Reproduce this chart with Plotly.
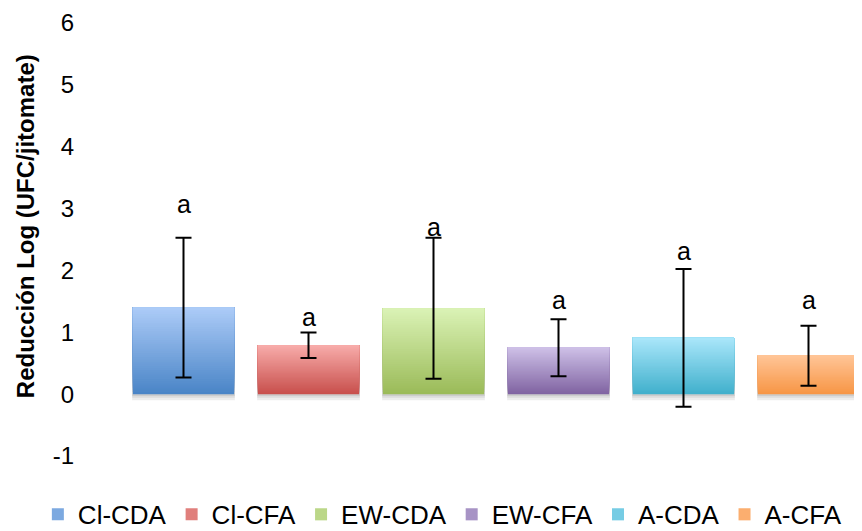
import plotly.graph_objects as go

# ---- data ----
categories = ["Cl-CDA", "Cl-CFA", "EW-CDA", "EW-CFA", "A-CDA", "A-CFA"]
means = [1.40, 0.79, 1.39, 0.75, 0.91, 0.62]
errors = [1.13, 0.205, 1.14, 0.46, 1.115, 0.485]
letters = ["a", "a", "a", "a", "a", "a"]
letter_y = [3.07, 1.24, 2.71, 1.53, 2.31, 1.53]
y_ticks = [-1, 0, 1, 2, 3, 4, 5, 6]
y_title = "Reducción Log (UFC/jitomate)"

# gradient colours (top, bottom) per series
top_colors = ["#ACCBF7", "#F7ABA9", "#DAF2B5", "#CDBFE6", "#A9E6FA", "#FFC495"]
bottom_colors = ["#4A85C7", "#C8504D", "#9BBB59", "#8064A2", "#41B0CC", "#F79646"]

FONT = "Liberation Sans, Arial, Helvetica, sans-serif"
N_SEG = 40
BAR_W = 0.81
SHADOW_DROP = [0.10, 0.06, 0.03]   # soft drop shadow layers (axis units)


def hex2rgb(h):
    h = h.lstrip("#")
    return tuple(int(h[i:i + 2], 16) for i in (0, 2, 4))


def mix(c1, c2, t):
    a, b = hex2rgb(c1), hex2rgb(c2)
    return "rgb(%d,%d,%d)" % tuple(round(a[i] + (b[i] - a[i]) * t) for i in range(3))


fig = go.Figure()

for i, cat in enumerate(categories):
    v = means[i]
    # soft shadow behind the bar
    for d in SHADOW_DROP:
        fig.add_trace(go.Bar(
            x=[cat], y=[v], base=[-d], width=BAR_W + 0.012,
            marker=dict(color="rgba(0,0,0,0.07)", line=dict(width=0)),
            showlegend=False, hoverinfo="skip", name=cat,
        ))
    # nested bars, each reaching the bar top, painted bottom colour first -> smooth gradient
    for k in range(N_SEG):
        t = k / (N_SEG - 1)  # 0 = bottom, 1 = top
        show = k == N_SEG // 2
        fig.add_trace(go.Bar(
            x=[cat], y=[v * (N_SEG - k) / N_SEG], base=[v * k / N_SEG],
            width=BAR_W,
            marker=dict(color=mix(bottom_colors[i], top_colors[i], t), line=dict(width=0)),
            name=cat, showlegend=show, hoverinfo="skip",
        ))
    # transparent bar carrying the error bar, drawn on top
    fig.add_trace(go.Bar(
        x=[cat], y=[v], width=BAR_W,
        marker=dict(color="rgba(0,0,0,0)", line=dict(width=0)),
        error_y=dict(type="data", array=[errors[i]], visible=True,
                     color="black", thickness=2, width=8),
        showlegend=False, name=cat,
    ))

for i, cat in enumerate(categories):
    fig.add_annotation(x=cat, y=letter_y[i], text=letters[i], showarrow=False,
                       font=dict(family=FONT, size=25, color="black"),
                       xanchor="center", yanchor="middle")

# y-axis title as a rotated annotation (positioned as in the reference)
fig.add_annotation(xref="paper", yref="paper", x=-0.128, y=0.531,
                   text="<b>" + y_title + "</b>", textangle=-90, showarrow=False,
                   font=dict(family=FONT, size=24, color="black"),
                   xanchor="center", yanchor="middle")

fig.update_layout(
    width=862, height=531,
    margin=dict(l=113, r=0, t=15, b=83, autoexpand=False),
    barmode="overlay",
    plot_bgcolor="white", paper_bgcolor="white",
    font=dict(family=FONT, color="black"),
    showlegend=True,
    legend=dict(orientation="h", x=-0.111, xanchor="left", y=-0.135, yanchor="middle",
                font=dict(family=FONT, size=26, color="black"),
                itemwidth=30, tracegroupgap=0, bgcolor="rgba(0,0,0,0)"),
    xaxis=dict(range=[-0.5, 5.492], showticklabels=False, showgrid=False,
               zeroline=False, showline=False, ticks="", fixedrange=True),
    yaxis=dict(range=[-1, 6], tickvals=y_ticks, ticktext=[str(t) for t in y_ticks],
               showgrid=False, zeroline=False, showline=False, ticks="",
               ticklabelstandoff=46,
               tickfont=dict(family=FONT, size=24, color="black")),
)

fig.write_html("out.html")
